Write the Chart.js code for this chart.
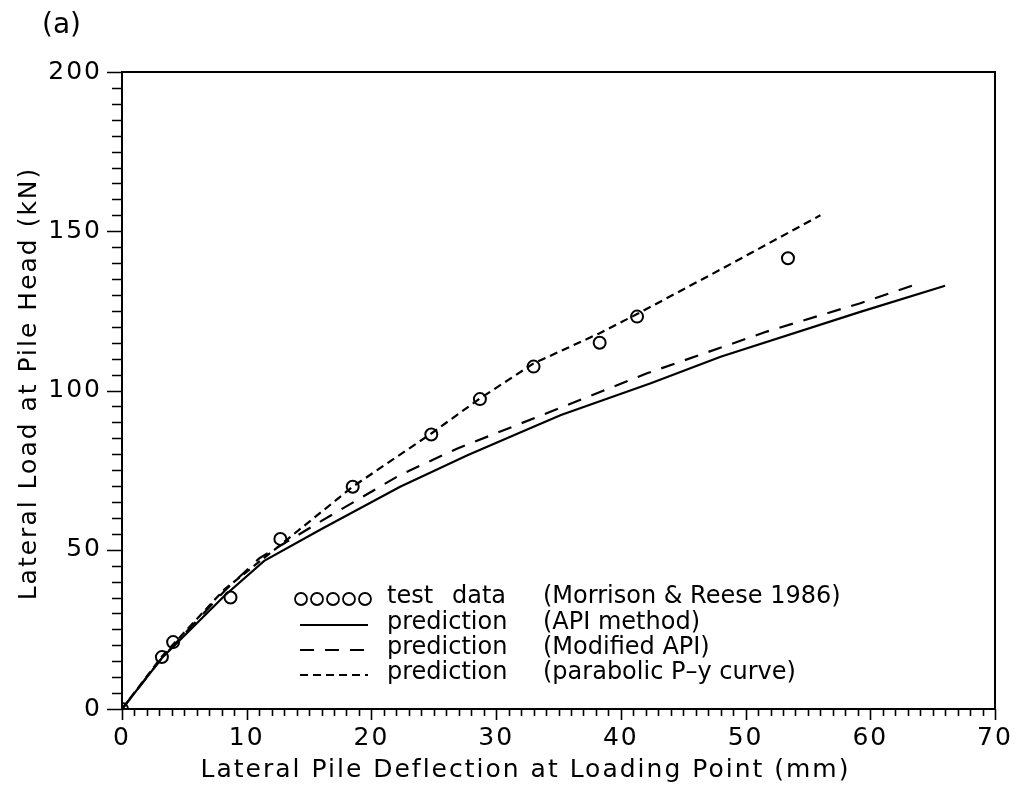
<!DOCTYPE html>
<html>
<head>
<meta charset="utf-8">
<title>Lateral load vs pile deflection</title>
<script src="https://cdn.jsdelivr.net/npm/chart.js@4.4.0/dist/chart.umd.min.js"></script>
<style>
  html, body { margin: 0; padding: 0; background: #fff; overflow: hidden; }
  #wrap { width: 1018px; height: 788px; position: relative; }
  #grafico { display: block; }
</style>
</head>
<body>
<div id="wrap"><canvas id="grafico"></canvas></div>
<script>
// test data (Morrison & Reese 1986)
const testX = [0, 3.2, 4.1, 8.7, 12.7, 18.5, 24.8, 28.7, 33.0, 38.3, 41.3, 53.4];
const testY = [0, 16.3, 21, 35, 53.4, 69.8, 86.2, 97.3, 107.5, 115.0, 123.2, 141.5];

// prediction (API method)
const apiX = [0, 3.2, 8.2, 11.4, 16, 22.3, 27.7, 33, 35.2, 42.4, 48, 59.2, 66];
const apiY = [0, 16, 35.5, 46.5, 56.5, 69.8, 79.7, 88.6, 92.3, 102.3, 110.6, 124.7, 132.9];

// prediction (Modified API)
const modX = [0, 3.2, 8.2, 11, 16.1, 22.3, 26.9, 34.4, 42.1, 51.7, 59.2, 63.8];
const modY = [0, 16, 37, 47.3, 59.3, 73.5, 81.8, 93.4, 105.4, 118.5, 127.4, 133.5];

// prediction (parabolic P-y curve)
const parX = [0, 3.2, 8.2, 12.7, 18.5, 24.8, 28.7, 33, 38.3, 41.3, 48, 56];
const parY = [0, 16.5, 37.5, 51.5, 69.8, 86.5, 97.5, 108.5, 118, 124, 138, 155];

const xTicks = [0, 10, 20, 30, 40, 50, 60, 70];
const yTicks = [0, 50, 100, 150, 200];

const xTitulo = 'Lateral Pile Deflection at Loading Point (mm)';
const yTitulo = 'Lateral Load at Pile Head (kN)';

const legendLabels = [
  ['test', 'data', '(Morrison & Reese 1986)'],
  ['prediction', '', '(API method)'],
  ['prediction', '', '(Modified API)'],
  ['prediction', '', '(parabolic P\u2013y curve)']
];

const fonte = 'DejaVu Sans';

function pares(xs, ys) {
  return xs.map((x, i) => ({ x: x, y: ys[i] }));
}

// espaçamento maior nas letras dos eixos
const espacamento = {
  id: 'espacamento',
  beforeDraw(chart) {
    chart.ctx.letterSpacing = '2px';
  }
};

// caixa, marcas menores, títulos dos eixos e legenda
const extras = {
  id: 'extras',
  afterDraw(chart) {
    const ctx = chart.ctx;
    const a = chart.chartArea;
    const sx = chart.scales.x;
    const sy = chart.scales.y;
    ctx.save();
    ctx.strokeStyle = '#000';
    ctx.lineWidth = 2;
    ctx.strokeRect(a.left, a.top, a.right - a.left, a.bottom - a.top);

    ctx.lineWidth = 1.6;
    ctx.beginPath();
    for (let v = 0; v <= 70; v++) {
      const px = Math.round(sx.getPixelForValue(v)) + 0.5;
      const len = v % 10 === 0 ? 11 : 7;
      ctx.moveTo(px, a.bottom);
      ctx.lineTo(px, a.bottom + len);
    }
    for (let v = 0; v <= 200; v += 5) {
      const py = Math.round(sy.getPixelForValue(v)) + 0.5;
      const len = v % 50 === 0 ? 15 : 10;
      ctx.moveTo(a.left, py);
      ctx.lineTo(a.left - len, py);
    }
    ctx.stroke();

    ctx.fillStyle = '#000';
    ctx.textBaseline = 'middle';

    // títulos dos eixos, um pouco fora do centro como no original
    ctx.letterSpacing = '2px';
    ctx.font = '25px "' + fonte + '"';
    ctx.textAlign = 'center';
    ctx.fillText(xTitulo, (a.left + a.right) / 2 - 33, a.bottom + 61);
    ctx.save();
    ctx.translate(29, (a.top + a.bottom) / 2 - 7);
    ctx.rotate(-Math.PI / 2);
    ctx.fillText(yTitulo, 0, 0);
    ctx.restore();

    // legenda
    ctx.letterSpacing = '0px';
    const lx = a.left + 173;
    const tx = a.left + 265;
    const px2 = a.left + 421;
    const rows = [a.bottom - 112, a.bottom - 86, a.bottom - 61, a.bottom - 36];
    ctx.font = '24px "' + fonte + '"';
    ctx.textAlign = 'left';

    ctx.lineWidth = 1.8;
    for (let i = 0; i < 5; i++) {
      ctx.beginPath();
      ctx.arc(lx + 6 + i * 16, rows[0] + 2, 6, 0, Math.PI * 2);
      ctx.stroke();
    }
    const dashes = [[], [14, 11], [8, 5]];
    dashes.forEach((d, i) => {
      ctx.beginPath();
      ctx.setLineDash(d);
      ctx.lineWidth = 2.2;
      ctx.moveTo(lx + 5, rows[i + 1] + 2);
      ctx.lineTo(lx + 73, rows[i + 1] + 2);
      ctx.stroke();
    });
    ctx.setLineDash([]);

    legendLabels.forEach((l, i) => {
      ctx.fillText(l[0], tx, rows[i]);
      if (l[1]) ctx.fillText(l[1], tx + 65, rows[i]);
      ctx.fillText(l[2], px2, rows[i]);
    });

    ctx.font = '28px "' + fonte + '"';
    ctx.fillText('(a)', 42, 26);
    ctx.restore();
  }
};

new Chart(document.getElementById('grafico'), {
  type: 'scatter',
  data: {
    datasets: [
      {
        label: 'prediction (API method)',
        data: pares(apiX, apiY),
        showLine: true,
        borderColor: '#000',
        borderWidth: 2.2,
        pointRadius: 0,
        tension: 0
      },
      {
        label: 'prediction (Modified API)',
        data: pares(modX, modY),
        showLine: true,
        borderColor: '#000',
        borderWidth: 2.2,
        borderDash: [14, 11],
        pointRadius: 0,
        tension: 0
      },
      {
        label: 'prediction (parabolic P-y curve)',
        data: pares(parX, parY),
        showLine: true,
        borderColor: '#000',
        borderWidth: 2.2,
        borderDash: [8, 5],
        pointRadius: 0,
        tension: 0
      },
      {
        label: 'test data (Morrison & Reese 1986)',
        data: pares(testX, testY),
        showLine: false,
        pointStyle: 'circle',
        pointRadius: 6,
        pointBorderWidth: 2,
        pointBorderColor: '#000',
        pointBackgroundColor: 'rgba(0,0,0,0)'
      }
    ]
  },
  options: {
    responsive: true,
    maintainAspectRatio: false,
    animation: false,
    devicePixelRatio: 1,
    layout: { padding: { top: 72, right: 23, left: 0, bottom: 0 } },
    plugins: {
      legend: { display: false },
      tooltip: { enabled: false }
    },
    scales: {
      x: {
        type: 'linear',
        min: 0,
        max: 70,
        afterBuildTicks: s => { s.ticks = xTicks.map(v => ({ value: v })); },
        afterFit: s => { s.height = 79; s.paddingLeft = 0; s.paddingRight = 0; },
        ticks: {
          color: '#000',
          padding: 14,
          maxRotation: 0,
          font: { family: fonte, size: 25 }
        },
        grid: { display: true, drawOnChartArea: false, drawTicks: false },
        border: { display: false },
        title: { display: false }
      },
      y: {
        type: 'linear',
        min: 0,
        max: 200,
        afterBuildTicks: s => { s.ticks = yTicks.map(v => ({ value: v })); },
        afterFit: s => { s.width = 122; s.paddingTop = 0; s.paddingBottom = 0; },
        ticks: {
          color: '#000',
          padding: 20,
          font: { family: fonte, size: 25 }
        },
        grid: { display: true, drawOnChartArea: false, drawTicks: false },
        border: { display: false },
        title: { display: false }
      }
    }
  },
  plugins: [espacamento, extras]
});
</script>
</body>
</html>
